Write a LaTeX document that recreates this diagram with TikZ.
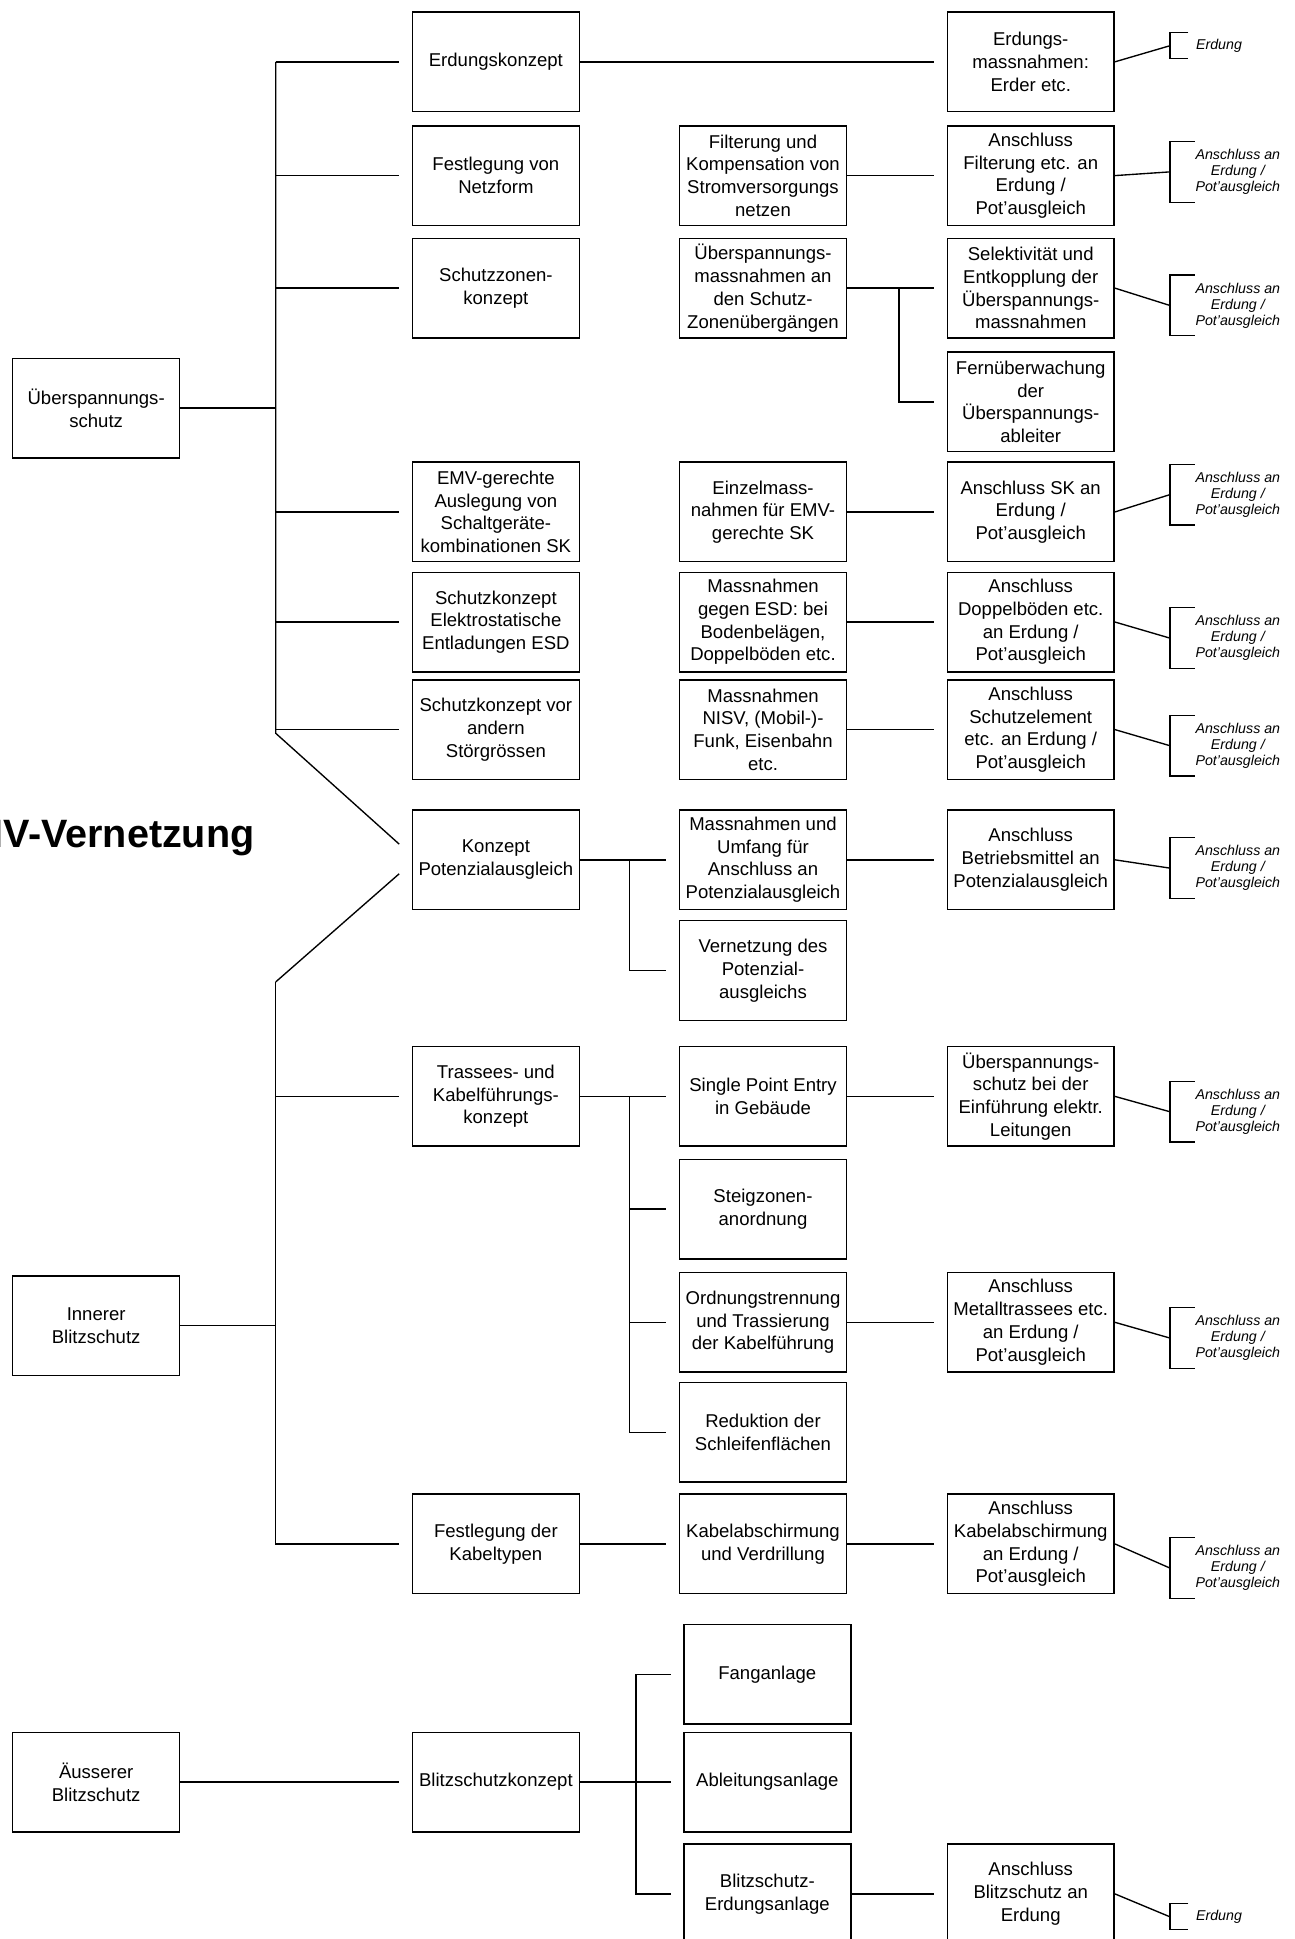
\documentclass[tikz,border=0pt]{standalone}
\usepackage{fontspec}
\setmainfont{Liberation Sans}

\tikzset{
  box/.style={draw, line width=1.2pt, minimum width=135pt, minimum height=80.5pt,
    inner sep=1pt, align=center, font=\fontsize{15}{18.4}\selectfont},
  link/.style={line width=1.1pt},
  into/.style={link, shorten >=10pt},
  klein/.style={align=center, inner sep=0pt, font=\fontsize{11.5}{13}\selectfont\itshape},
  titel/.style={inner sep=0pt, font=\fontsize{32}{38}\selectfont\bfseries}
}

\begin{document}
\begin{tikzpicture}[x=1pt, y=-1pt]
\useasboundingbox (0,0) rectangle (1047,1568);
\clip (0,0) rectangle (1047,1568);

\node [titel, anchor=base east] (titel) at (206,685.6) {EMV-Vernetzung};

% linke Spalte
\node [box] (ueber) at (77.75,330) {Überspannungs-\\schutz};
\node [box] (inner) at (77.75,1072) {Innerer\\Blitzschutz};
\node [box] (aeuss) at (77.75,1441.1) {Äusserer\\Blitzschutz};

% Konzepte
\node [box] (erdk) at (401,50) {Erdungskonzept};
\node [box] (netz) at (401,142) {Festlegung von\\Netzform};
\node [box] (zonen) at (401,233) {Schutzzonen-\\konzept};
\node [box] (sk) at (401,414) {EMV-gerechte\\Auslegung von\\Schaltgeräte-\\kombinationen SK};
\node [box] (esd) at (401,503) {Schutzkonzept\\Elektrostatische\\Entladungen ESD};
\node [box] (stoer) at (401,590) {Schutzkonzept vor\\andern\\Störgrössen};
\node [box] (pot) at (401,695.3) {Konzept\\Potenzialausgleich};
\node [box] (trass) at (401,886.6) {Trassees- und\\Kabelführungs-\\konzept};
\node [box] (kabtyp) at (401,1248.5) {Festlegung der\\Kabeltypen};
\node [box] (bkonz) at (401,1441.1) {Blitzschutzkonzept};

% Massnahmen
\node [box] (filt) at (617,142) {Filterung und\\Kompensation von\\Stromversorgungs\\netzen};
\node [box] (uebm) at (617,233) {Überspannungs-\\massnahmen an\\den Schutz-\\Zonenübergängen};
\node [box] (einz) at (617,414) {Einzelmass-\\nahmen für EMV-\\gerechte SK};
\node [box] (gesd) at (617,503) {Massnahmen\\gegen ESD: bei\\Bodenbelägen,\\Doppelböden etc.};
\node [box] (nisv) at (617,590) {Massnahmen\\NISV, (Mobil-)-\\Funk, Eisenbahn\\etc.};
\node [box] (massn) at (617,695.3) {Massnahmen und\\Umfang für\\Anschluss an\\Potenzialausgleich};
\node [box] (vern) at (617,784.8) {Vernetzung des\\Potenzial-\\ausgleichs};
\node [box] (spe) at (617,886.6) {Single Point Entry\\in Gebäude};
\node [box] (steig) at (617,977.8) {Steigzonen-\\anordnung};
\node [box] (ordn) at (617,1069.3) {Ordnungstrennung\\und Trassierung\\der Kabelführung};
\node [box] (redukt) at (617,1158.2) {Reduktion der\\Schleifenflächen};
\node [box] (kabel) at (617,1248.5) {Kabelabschirmung\\und Verdrillung};
\node [box] (fang) at (620.5,1353.9) {Fanganlage};
\node [box] (ableit) at (620.5,1441.1) {Ableitungsanlage};
\node [box] (berd) at (620.5,1531.5) {Blitzschutz-\\Erdungsanlage};

% Anschluesse
\node [box] (erdm) at (833.5,50) {Erdungs-\\massnahmen:\\Erder etc.};
\node [box] (afilt) at (833.5,142) {Anschluss\\Filterung etc. an\\Erdung /\\Pot'ausgleich};
\node [box] (selekt) at (833.5,233) {Selektivität und\\Entkopplung der\\Überspannungs-\\massnahmen};
\node [box] (fern) at (833.5,325) {Fernüberwachung\\der\\Überspannungs-\\ableiter};
\node [box] (ask) at (833.5,414) {Anschluss SK an\\Erdung /\\Pot'ausgleich};
\node [box] (adop) at (833.5,503) {Anschluss\\Doppelböden etc.\\an Erdung /\\Pot'ausgleich};
\node [box] (aschutz) at (833.5,590) {Anschluss\\Schutzelement\\etc. an Erdung /\\Pot'ausgleich};
\node [box] (abetr) at (833.5,695.3) {Anschluss\\Betriebsmittel an\\Potenzialausgleich};
\node [box] (aspe) at (833.5,886.6) {Überspannungs-\\schutz bei der\\Einführung elektr.\\Leitungen};
\node [box] (ametall) at (833.5,1069.3) {Anschluss\\Metalltrassees etc.\\an Erdung /\\Pot'ausgleich};
\node [box] (akabel) at (833.5,1248.5) {Anschluss\\Kabelabschirmung\\an Erdung /\\Pot'ausgleich};
\node [box] (ablitz) at (833.5,1531.5) {Anschluss\\Blitzschutz an\\Erdung};

% Ueberspannungsschutz
\coordinate (t1) at (223,50);
\coordinate (t1u) at (223,593);
\coordinate (d1) at (322.8,682.6);
\draw [link, line width=1.6pt] (ueber) -- (ueber -| t1);
\draw [link] (t1) -- (t1u) -- (d1);
\foreach \n in {erdk, netz, zonen, sk, esd, stoer}
  \draw [into] (t1 |- \n) -- (\n);

% Innerer Blitzschutz
\coordinate (t2) at (223,794);
\coordinate (d2) at (322.8,706.6);
\draw [link] (t2) -- (d2);
\draw [link] (inner) -- (inner -| t2);
\draw [into] (t2) |- (kabtyp);
\draw [into] (t2 |- trass) -- (trass);

% Aeusserer Blitzschutz
\coordinate (b) at (514.3,1441.1);
\draw [into] (aeuss) -- (bkonz);
\draw [into] (bkonz) -- (ableit);
\foreach \n in {fang, berd}
  \draw [into] (b) |- (\n);

% Unterbaeume
\coordinate (z) at (727,233);
\draw [into] (z) |- (fern);
\coordinate (p) at (509.3,695.3);
\draw [into] (pot) -- (massn);
\draw [into] (p) |- (vern);
\coordinate (q) at (509.3,886.6);
\draw [into] (trass) -- (spe);
\foreach \n in {steig, ordn, redukt}
  \draw [into] (q) |- (\n);
\draw [into] (kabtyp) -- (kabel);
\draw [into] (erdk) -- (erdm);
\foreach \a/\b in {filt/afilt, uebm/selekt, einz/ask, gesd/adop, nisv/aschutz,
    massn/abetr, spe/aspe, ordn/ametall, kabel/akabel, berd/ablitz}
  \draw [into] (\a) -- (\b);

% Klammern
\foreach \n/\m in {afilt/139, selekt/247, ask/400, adop/516, aschutz/603,
    abetr/702, aspe/899, ametall/1082, akabel/1268} {
  \draw [link] (\n.east) -- (946,\m);
  \draw [link] (966,{\m-24.5}) -- (946,{\m-24.5}) -- (946,{\m+24.5}) -- (966,{\m+24.5});
  \node [klein] (k\n) at (1001,\m) {Anschluss an\\Erdung /\\Pot'ausgleich};
}
\foreach \n/\m in {erdm/37, ablitz/1550} {
  \draw [link] (\n.east) -- (946,\m);
  \draw [link] (961,{\m-10.5}) -- (946,{\m-10.5}) -- (946,{\m+10.5}) -- (961,{\m+10.5});
  \node [klein, anchor=west] (k\n) at (967,\m) {Erdung};
}
\end{tikzpicture}
\end{document}
